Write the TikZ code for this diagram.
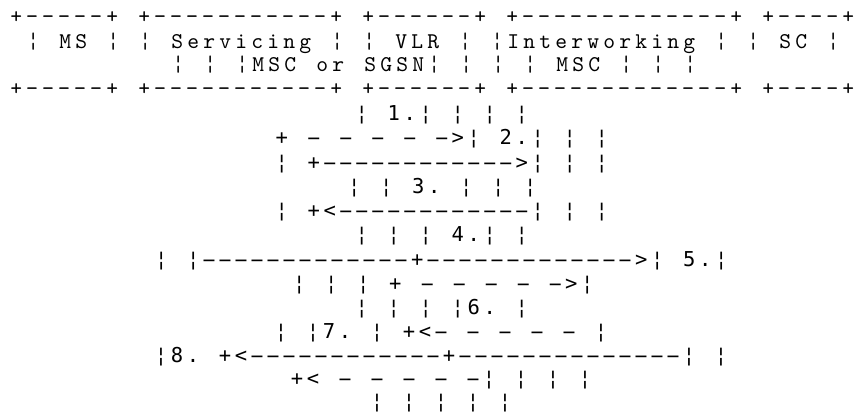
\documentclass[tikz,border=0pt]{standalone}
\usepackage{fontspec}
\usepackage{graphicx}
\newfontfamily\flowfont{DejaVu Sans Mono}
\newfontfamily\boxfont{lmmono10-regular.otf}

% one character cell of the text grid
\newlength\cellwd
\setlength\cellwd{16pt}

% #1 font, #2 stretch of '-', #3 the text of one row
\ExplSyntaxOn
\NewDocumentCommand \asciirow { m m m }
  {
    \str_map_inline:nn {#3}
      {
        \makebox[\cellwd][c]
          {
            #1
            \str_if_eq:nnTF {##1} {-}
              { \scalebox{#2}[1]{-} }
              { ##1 }
          }
      }
  }
\ExplSyntaxOff

\newcommand\boxtext[1]{\asciirow{\boxfont\fontsize{22.5pt}{24pt}\selectfont}{1.05}{#1}}
\newcommand\flowtext[1]{\asciirow{\flowfont\fontsize{20.5pt}{24pt}\selectfont}{2.1}{#1}}

\tikzset{
  boxrow/.style={anchor=base west, inner sep=0pt},
  flowrow/.style={anchor=base west, inner sep=0pt},
}

\begin{document}
\begin{tikzpicture}[x=1pt, y=-1pt]
  \fill[white] (0,0) rectangle (856,413);
  \useasboundingbox (0,0) rectangle (856,413);

  % entity boxes
  \node[boxrow] (row1) at (8,23)    {\boxtext{+-----+ +-----------+ +------+ +-------------+ +----+}};
  \node[boxrow] (row2) at (25,48)   {\boxtext{¦ MS ¦ ¦ Servicing ¦ ¦ VLR ¦ ¦Interworking ¦ ¦ SC ¦}};
  \node[boxrow] (row3) at (170,71)  {\boxtext{¦ ¦ ¦MSC or SGSN¦ ¦ ¦ ¦ MSC ¦ ¦ ¦}};
  \node[boxrow] (row4) at (8,95)    {\boxtext{+-----+ +-----------+ +------+ +-------------+ +----+}};

  % message flow
  \node[flowrow] (row5)  at (353.6,120)   {\flowtext{¦ 1.¦ ¦ ¦ ¦}};
  \node[flowrow] (row6)  at (273.6,144)   {\flowtext{+ - - - - ->¦ 2.¦ ¦ ¦}};
  \node[flowrow] (row7)  at (273.6,169)   {\flowtext{¦ +------------>¦ ¦ ¦}};
  \node[flowrow] (row8)  at (346,193)     {\flowtext{¦ ¦ 3. ¦ ¦ ¦}};
  \node[flowrow] (row9)  at (273.6,217)   {\flowtext{¦ +<------------¦ ¦ ¦}};
  \node[flowrow] (row10) at (353.6,241.5) {\flowtext{¦ ¦ ¦ 4.¦ ¦}};
  \node[flowrow] (row11) at (153,266)     {\flowtext{¦ ¦-------------+------------->¦ 5.¦}};
  \node[flowrow] (row12) at (291.2,290)   {\flowtext{¦ ¦ ¦ + - - - - ->¦}};
  \node[flowrow] (row13) at (353.6,314)   {\flowtext{¦ ¦ ¦ ¦6. ¦}};
  \node[flowrow] (row14) at (272.8,338)   {\flowtext{¦ ¦7. ¦ +<- - - - - ¦}};
  \node[flowrow] (row15) at (152.8,362)   {\flowtext{¦8. +<------------+--------------¦ ¦}};
  \node[flowrow] (row16) at (288.8,385.5) {\flowtext{+< - - - - -¦ ¦ ¦ ¦}};
  \node[flowrow] (row17) at (368.8,408.5) {\flowtext{¦ ¦ ¦ ¦ ¦}};
\end{tikzpicture}
\end{document}
